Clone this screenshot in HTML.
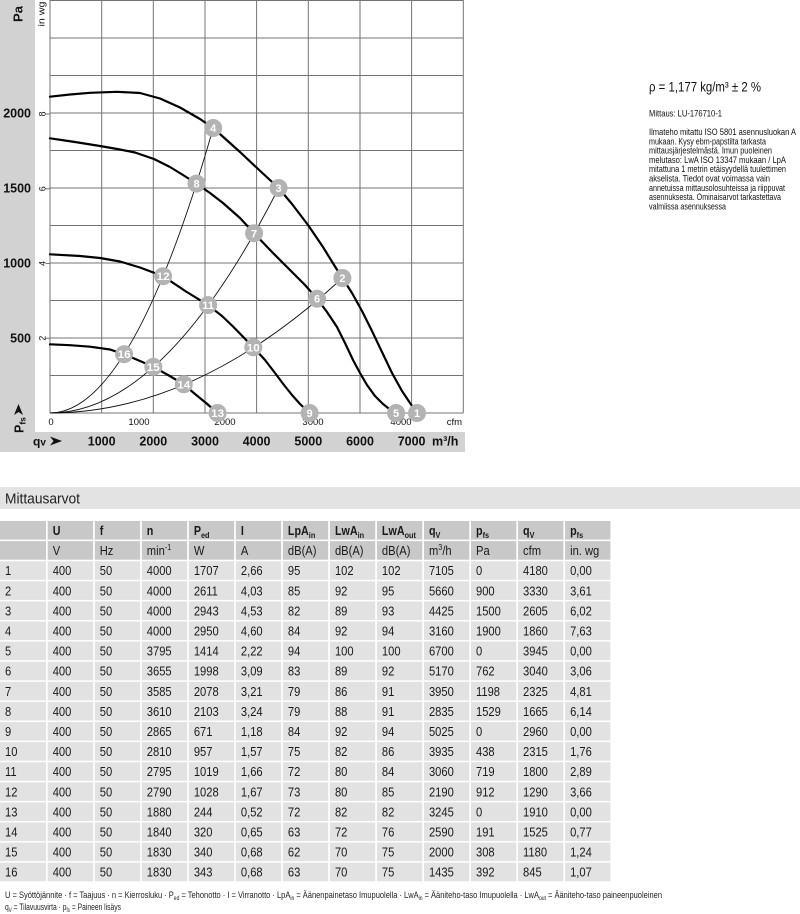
<!DOCTYPE html>
<html><head><meta charset="utf-8">
<style>html,body{margin:0;padding:0;background:#fff;}svg{display:block}</style>
</head><body>
<svg width="800" height="914" viewBox="0 0 800 914" xmlns="http://www.w3.org/2000/svg" font-family="'Liberation Sans', Arial, sans-serif">
<rect x="0" y="0" width="800" height="914" fill="#fff"/>
<!-- chart gray bands -->
<rect x="0" y="0" width="35" height="452" fill="#d2d2d2"/>
<rect x="0" y="432" width="465" height="20" fill="#d2d2d2"/>
<!-- grid -->
<path d="M50 0.5H463.3M50 38H463.3M50 75.5H463.3M50 113H463.3M50 150.5H463.3M50 188H463.3M50 225.5H463.3M50 263H463.3M50 300.5H463.3M50 338H463.3M50 375.5H463.3M50 413H463.3M50 0V413M101.7 0V413M153.3 0V413M205 0V413M256.6 0V413M308.3 0V413M360 0V413M411.6 0V413M463.3 0V413" stroke="#747474" stroke-width="1" fill="none"/>
<!-- in wg ticks -->
<path d="M45.5 114H50M45.5 188.8H50M45.5 263.5H50M45.5 338.2H50" stroke="#747474" stroke-width="1"/>
<!-- system curves -->
<g fill="none" stroke="#111" stroke-width="0.9">
<path d="M50 413Q131.6 413 213.2 128"/>
<path d="M50 413Q164.3 413 278.6 188"/>
<path d="M50 413Q196.2 413 342.4 278"/>
</g>
<!-- fan curves -->
<g fill="none" stroke="#000" stroke-width="2.2" stroke-linejoin="round" stroke-linecap="round">
<polyline points="50,96.7 70,94.5 90,92.8 117,91.8 140,93 160,98.5 180,107.5 200,119 213.2,128 240,152 257,168 278.6,188 292,204 308,225 323,247 335,266.5 342.4,278 352,293 362,311 372,331 382,352 392,373 402,391 410,403 417,413"/>
<polyline points="50,138.3 75,142 100,146 120,149.5 135,152.5 154,159 170,167 183,175 196.5,183.6 210,193 223,203 240,218 254.1,233.3 272,252 290,270 305,285 317.1,298.7 327,312 337,327 345,343 353,360 360,373 367,385 375,396 383,404 390,409.5 396.1,413"/>
<polyline points="50,254.3 80,256 100,258 120,261.5 140,267.5 163.1,276.2 186,291.5 208.1,305.1 222,316 233,326.5 253.3,347.3 265,360 275,373 284,385 292,395 300,404 309.6,413"/>
<polyline points="50,344.3 70,345.2 90,346.7 110,349.5 124.1,354.2 140,361 153.3,366.8 168,375 183.8,384.3 195,394 206,403 217.6,413"/>
</g>
<!-- axis labels -->
<g fill="#111">
<text transform="translate(22.7,14) rotate(-90)" text-anchor="middle" font-size="13" font-weight="bold">Pa</text>
<text transform="translate(44.5,14) rotate(-90)" text-anchor="middle" font-size="9" textLength="25" lengthAdjust="spacingAndGlyphs">in wg</text>
<g font-size="12.5" font-weight="bold" text-anchor="end">
<text x="31" y="117.5">2000</text>
<text x="31" y="192.5">1500</text>
<text x="31" y="267.5">1000</text>
<text x="31" y="342.5">500</text>
</g>
<g font-size="9" text-anchor="middle">
<text transform="translate(45.3,114) rotate(-90)">8</text>
<text transform="translate(45.3,188.8) rotate(-90)">6</text>
<text transform="translate(45.3,263.5) rotate(-90)">4</text>
<text transform="translate(45.3,338.2) rotate(-90)">2</text>
</g>
<polygon points="18.5,404 23,415 18.5,412 14,415"/>
<text transform="translate(23.5,433) rotate(-90)" font-size="12.5" font-weight="bold">P<tspan font-size="8.5" dy="2">fs</tspan></text>
<g font-size="9.5" text-anchor="middle">
<text x="51" y="425">0</text>
<text x="139" y="425">1000</text>
<text x="225" y="425">2000</text>
<text x="313" y="425">3000</text>
<text x="401" y="425">4000</text>
</g>
<text x="462" y="425" font-size="9.5" text-anchor="end">cfm</text>
<text x="33" y="445.5" font-size="12" font-weight="bold">q<tspan font-size="10">v</tspan></text>
<polygon points="50,436.5 62,441 50,445.5 53.5,441"/>
<g font-size="12.5" font-weight="bold" text-anchor="middle">
<text x="101.7" y="445.5">1000</text>
<text x="153.3" y="445.5">2000</text>
<text x="205" y="445.5">3000</text>
<text x="256.6" y="445.5">4000</text>
<text x="308.3" y="445.5">5000</text>
<text x="360" y="445.5">6000</text>
<text x="411.6" y="445.5">7000</text>
</g>
<text x="432" y="445.5" font-size="12.5" font-weight="bold">m³/h</text>
</g>
<!-- operating point circles -->
<g fill="#b3b3b3">
<circle cx="417" cy="413" r="9"/><circle cx="342.4" cy="278" r="9"/><circle cx="278.6" cy="188" r="9"/><circle cx="213.2" cy="128" r="9"/>
<circle cx="396.1" cy="413" r="9"/><circle cx="317.1" cy="298.7" r="9"/><circle cx="254.1" cy="233.3" r="9"/><circle cx="196.5" cy="183.6" r="9"/>
<circle cx="309.6" cy="413" r="9"/><circle cx="253.3" cy="347.3" r="9"/><circle cx="208.1" cy="305.1" r="9"/><circle cx="163.1" cy="276.2" r="9"/>
<circle cx="217.6" cy="413" r="9"/><circle cx="183.8" cy="384.3" r="9"/><circle cx="153.3" cy="366.8" r="9"/><circle cx="124.1" cy="354.2" r="9"/>
</g>
<g fill="#fff" font-size="11" font-weight="bold" text-anchor="middle">
<text x="417" y="417">1</text><text x="342.4" y="282">2</text><text x="278.6" y="192">3</text><text x="213.2" y="132">4</text>
<text x="396.1" y="417">5</text><text x="317.1" y="302.7">6</text><text x="254.1" y="237.3">7</text><text x="196.5" y="187.6">8</text>
<text x="309.6" y="417">9</text><text x="253.3" y="351.3" textLength="13" lengthAdjust="spacingAndGlyphs">10</text><text x="208.1" y="309.1" textLength="12" lengthAdjust="spacingAndGlyphs">11</text><text x="163.1" y="280.2" textLength="13" lengthAdjust="spacingAndGlyphs">12</text>
<text x="217.6" y="417" textLength="13" lengthAdjust="spacingAndGlyphs">13</text><text x="183.8" y="388.3" textLength="13" lengthAdjust="spacingAndGlyphs">14</text><text x="153.3" y="370.8" textLength="13" lengthAdjust="spacingAndGlyphs">15</text><text x="124.1" y="358.2" textLength="13" lengthAdjust="spacingAndGlyphs">16</text>
</g>
<!-- right info text -->
<g fill="#111">
<text x="649" y="91.5" font-size="13.5" textLength="112" lengthAdjust="spacingAndGlyphs">ρ = 1,177 kg/m³ ± 2 %</text>
<text x="649" y="116.5" font-size="9" textLength="73" lengthAdjust="spacingAndGlyphs">Mittaus: LU-176710-1</text>
<g font-size="9" lengthAdjust="spacingAndGlyphs">
<text x="649" y="135" textLength="147" lengthAdjust="spacingAndGlyphs">Ilmateho mitattu ISO 5801 asennusluokan A</text>
<text x="649" y="144.3" textLength="117" lengthAdjust="spacingAndGlyphs">mukaan. Kysy ebm-papstilta tarkasta</text>
<text x="649" y="153.6" textLength="123" lengthAdjust="spacingAndGlyphs">mittausjärjestelmästä. Imun puoleinen</text>
<text x="649" y="162.9" textLength="137" lengthAdjust="spacingAndGlyphs">melutaso: LwA  ISO 13347 mukaan / LpA</text>
<text x="649" y="172.2" textLength="137" lengthAdjust="spacingAndGlyphs">mitattuna 1 metrin etäisyydellä tuulettimen</text>
<text x="649" y="181.5" textLength="121" lengthAdjust="spacingAndGlyphs">akselista. Tiedot ovat voimassa vain</text>
<text x="649" y="190.8" textLength="136" lengthAdjust="spacingAndGlyphs">annetuissa mittausolosuhteissa ja riippuvat</text>
<text x="649" y="200.1" textLength="132" lengthAdjust="spacingAndGlyphs">asennuksesta. Ominaisarvot tarkastettava</text>
<text x="649" y="209.4" textLength="77" lengthAdjust="spacingAndGlyphs">valmiissa asennuksessa</text>
</g>
</g>
<!-- title bar -->
<rect x="0" y="487" width="800" height="22" fill="#e3e3e3"/>
<text x="5" y="503.5" font-size="15" fill="#222" textLength="75" lengthAdjust="spacingAndGlyphs">Mittausarvot</text>
<!-- table backgrounds -->
<rect x="0" y="521" width="610.4" height="39.7" fill="#c8c8c8"/>
<rect x="0" y="561.2" width="610.4" height="320.1" fill="#e2e2e2"/>
<g fill="#fff">
<rect x="46" y="521" width="1.7" height="361"/><rect x="93.06" y="521" width="1.7" height="361"/><rect x="140.09" y="521" width="1.7" height="361"/><rect x="187.12" y="521" width="1.7" height="361"/><rect x="234.15" y="521" width="1.7" height="361"/><rect x="281.18" y="521" width="1.7" height="361"/><rect x="328.21" y="521" width="1.7" height="361"/><rect x="375.24" y="521" width="1.7" height="361"/><rect x="422.27" y="521" width="1.7" height="361"/><rect x="469.3" y="521" width="1.7" height="361"/><rect x="516.33" y="521" width="1.7" height="361"/><rect x="563.36" y="521" width="1.7" height="361"/>
<rect x="0" y="539.6" width="611" height="1.5"/><rect x="0" y="559.7" width="611" height="1.5"/><rect x="0" y="579.8" width="611" height="1.5"/><rect x="0" y="599.9" width="611" height="1.5"/><rect x="0" y="620" width="611" height="1.5"/><rect x="0" y="640.1" width="611" height="1.5"/><rect x="0" y="660.2" width="611" height="1.5"/><rect x="0" y="680.3" width="611" height="1.5"/><rect x="0" y="700.4" width="611" height="1.5"/><rect x="0" y="720.5" width="611" height="1.5"/><rect x="0" y="740.6" width="611" height="1.5"/><rect x="0" y="760.7" width="611" height="1.5"/><rect x="0" y="780.8" width="611" height="1.5"/><rect x="0" y="800.9" width="611" height="1.5"/><rect x="0" y="821" width="611" height="1.5"/><rect x="0" y="841.1" width="611" height="1.5"/><rect x="0" y="861.2" width="611" height="1.5"/>
</g>
<!-- table text -->
<g transform="scale(0.86 1)" fill="#1a1a1a" font-size="13">
<g font-weight="bold" font-size="12.5">
<text x="61.28" y="535">U</text>
<text x="116" y="535">f</text>
<text x="170.7" y="535">n</text>
<text x="225.4" y="535">P<tspan font-size="8.5" dy="3">ed</tspan></text>
<text x="280.1" y="535">I</text>
<text x="334.8" y="535">LpA<tspan font-size="8.5" dy="3">in</tspan></text>
<text x="389.5" y="535">LwA<tspan font-size="8.5" dy="3">in</tspan></text>
<text x="444.1" y="535">LwA<tspan font-size="8.5" dy="3">out</tspan></text>
<text x="498.8" y="535">q<tspan font-size="8.5" dy="3">V</tspan></text>
<text x="553.5" y="535">p<tspan font-size="8.5" dy="3">fs</tspan></text>
<text x="608.2" y="535">q<tspan font-size="8.5" dy="3">V</tspan></text>
<text x="662.9" y="535">p<tspan font-size="8.5" dy="3">fs</tspan></text>
</g>
<text x="61.28" y="555.1">V</text>
<text x="116" y="555.1">Hz</text>
<text x="170.7" y="555.1">min<tspan font-size="8.5" dy="-5">-1</tspan></text>
<text x="225.4" y="555.1">W</text>
<text x="280.1" y="555.1">A</text>
<text x="334.8" y="555.1">dB(A)</text>
<text x="389.5" y="555.1">dB(A)</text>
<text x="444.1" y="555.1">dB(A)</text>
<text x="498.8" y="555.1">m<tspan font-size="8.5" dy="-5">3</tspan><tspan dy="5">/h</tspan></text>
<text x="553.5" y="555.1">Pa</text>
<text x="608.2" y="555.1">cfm</text>
<text x="662.9" y="555.1">in. wg</text>
<text y="575.2"><tspan x="5.81">1</tspan><tspan x="61.28">400</tspan><tspan x="116">50</tspan><tspan x="170.7">4000</tspan><tspan x="225.4">1707</tspan><tspan x="280.1">2,66</tspan><tspan x="334.8">95</tspan><tspan x="389.5">102</tspan><tspan x="444.1">102</tspan><tspan x="498.8">7105</tspan><tspan x="553.5">0</tspan><tspan x="608.2">4180</tspan><tspan x="662.9">0,00</tspan></text>
<text y="595.3"><tspan x="5.81">2</tspan><tspan x="61.28">400</tspan><tspan x="116">50</tspan><tspan x="170.7">4000</tspan><tspan x="225.4">2611</tspan><tspan x="280.1">4,03</tspan><tspan x="334.8">85</tspan><tspan x="389.5">92</tspan><tspan x="444.1">95</tspan><tspan x="498.8">5660</tspan><tspan x="553.5">900</tspan><tspan x="608.2">3330</tspan><tspan x="662.9">3,61</tspan></text>
<text y="615.4"><tspan x="5.81">3</tspan><tspan x="61.28">400</tspan><tspan x="116">50</tspan><tspan x="170.7">4000</tspan><tspan x="225.4">2943</tspan><tspan x="280.1">4,53</tspan><tspan x="334.8">82</tspan><tspan x="389.5">89</tspan><tspan x="444.1">93</tspan><tspan x="498.8">4425</tspan><tspan x="553.5">1500</tspan><tspan x="608.2">2605</tspan><tspan x="662.9">6,02</tspan></text>
<text y="635.5"><tspan x="5.81">4</tspan><tspan x="61.28">400</tspan><tspan x="116">50</tspan><tspan x="170.7">4000</tspan><tspan x="225.4">2950</tspan><tspan x="280.1">4,60</tspan><tspan x="334.8">84</tspan><tspan x="389.5">92</tspan><tspan x="444.1">94</tspan><tspan x="498.8">3160</tspan><tspan x="553.5">1900</tspan><tspan x="608.2">1860</tspan><tspan x="662.9">7,63</tspan></text>
<text y="655.6"><tspan x="5.81">5</tspan><tspan x="61.28">400</tspan><tspan x="116">50</tspan><tspan x="170.7">3795</tspan><tspan x="225.4">1414</tspan><tspan x="280.1">2,22</tspan><tspan x="334.8">94</tspan><tspan x="389.5">100</tspan><tspan x="444.1">100</tspan><tspan x="498.8">6700</tspan><tspan x="553.5">0</tspan><tspan x="608.2">3945</tspan><tspan x="662.9">0,00</tspan></text>
<text y="675.7"><tspan x="5.81">6</tspan><tspan x="61.28">400</tspan><tspan x="116">50</tspan><tspan x="170.7">3655</tspan><tspan x="225.4">1998</tspan><tspan x="280.1">3,09</tspan><tspan x="334.8">83</tspan><tspan x="389.5">89</tspan><tspan x="444.1">92</tspan><tspan x="498.8">5170</tspan><tspan x="553.5">762</tspan><tspan x="608.2">3040</tspan><tspan x="662.9">3,06</tspan></text>
<text y="695.8"><tspan x="5.81">7</tspan><tspan x="61.28">400</tspan><tspan x="116">50</tspan><tspan x="170.7">3585</tspan><tspan x="225.4">2078</tspan><tspan x="280.1">3,21</tspan><tspan x="334.8">79</tspan><tspan x="389.5">86</tspan><tspan x="444.1">91</tspan><tspan x="498.8">3950</tspan><tspan x="553.5">1198</tspan><tspan x="608.2">2325</tspan><tspan x="662.9">4,81</tspan></text>
<text y="715.9"><tspan x="5.81">8</tspan><tspan x="61.28">400</tspan><tspan x="116">50</tspan><tspan x="170.7">3610</tspan><tspan x="225.4">2103</tspan><tspan x="280.1">3,24</tspan><tspan x="334.8">79</tspan><tspan x="389.5">88</tspan><tspan x="444.1">91</tspan><tspan x="498.8">2835</tspan><tspan x="553.5">1529</tspan><tspan x="608.2">1665</tspan><tspan x="662.9">6,14</tspan></text>
<text y="736"><tspan x="5.81">9</tspan><tspan x="61.28">400</tspan><tspan x="116">50</tspan><tspan x="170.7">2865</tspan><tspan x="225.4">671</tspan><tspan x="280.1">1,18</tspan><tspan x="334.8">84</tspan><tspan x="389.5">92</tspan><tspan x="444.1">94</tspan><tspan x="498.8">5025</tspan><tspan x="553.5">0</tspan><tspan x="608.2">2960</tspan><tspan x="662.9">0,00</tspan></text>
<text y="756.1"><tspan x="5.81">10</tspan><tspan x="61.28">400</tspan><tspan x="116">50</tspan><tspan x="170.7">2810</tspan><tspan x="225.4">957</tspan><tspan x="280.1">1,57</tspan><tspan x="334.8">75</tspan><tspan x="389.5">82</tspan><tspan x="444.1">86</tspan><tspan x="498.8">3935</tspan><tspan x="553.5">438</tspan><tspan x="608.2">2315</tspan><tspan x="662.9">1,76</tspan></text>
<text y="776.2"><tspan x="5.81">11</tspan><tspan x="61.28">400</tspan><tspan x="116">50</tspan><tspan x="170.7">2795</tspan><tspan x="225.4">1019</tspan><tspan x="280.1">1,66</tspan><tspan x="334.8">72</tspan><tspan x="389.5">80</tspan><tspan x="444.1">84</tspan><tspan x="498.8">3060</tspan><tspan x="553.5">719</tspan><tspan x="608.2">1800</tspan><tspan x="662.9">2,89</tspan></text>
<text y="796.3"><tspan x="5.81">12</tspan><tspan x="61.28">400</tspan><tspan x="116">50</tspan><tspan x="170.7">2790</tspan><tspan x="225.4">1028</tspan><tspan x="280.1">1,67</tspan><tspan x="334.8">73</tspan><tspan x="389.5">80</tspan><tspan x="444.1">85</tspan><tspan x="498.8">2190</tspan><tspan x="553.5">912</tspan><tspan x="608.2">1290</tspan><tspan x="662.9">3,66</tspan></text>
<text y="816.4"><tspan x="5.81">13</tspan><tspan x="61.28">400</tspan><tspan x="116">50</tspan><tspan x="170.7">1880</tspan><tspan x="225.4">244</tspan><tspan x="280.1">0,52</tspan><tspan x="334.8">72</tspan><tspan x="389.5">82</tspan><tspan x="444.1">82</tspan><tspan x="498.8">3245</tspan><tspan x="553.5">0</tspan><tspan x="608.2">1910</tspan><tspan x="662.9">0,00</tspan></text>
<text y="836.5"><tspan x="5.81">14</tspan><tspan x="61.28">400</tspan><tspan x="116">50</tspan><tspan x="170.7">1840</tspan><tspan x="225.4">320</tspan><tspan x="280.1">0,65</tspan><tspan x="334.8">63</tspan><tspan x="389.5">72</tspan><tspan x="444.1">76</tspan><tspan x="498.8">2590</tspan><tspan x="553.5">191</tspan><tspan x="608.2">1525</tspan><tspan x="662.9">0,77</tspan></text>
<text y="856.6"><tspan x="5.81">15</tspan><tspan x="61.28">400</tspan><tspan x="116">50</tspan><tspan x="170.7">1830</tspan><tspan x="225.4">340</tspan><tspan x="280.1">0,68</tspan><tspan x="334.8">62</tspan><tspan x="389.5">70</tspan><tspan x="444.1">75</tspan><tspan x="498.8">2000</tspan><tspan x="553.5">308</tspan><tspan x="608.2">1180</tspan><tspan x="662.9">1,24</tspan></text>
<text y="876.7"><tspan x="5.81">16</tspan><tspan x="61.28">400</tspan><tspan x="116">50</tspan><tspan x="170.7">1830</tspan><tspan x="225.4">343</tspan><tspan x="280.1">0,68</tspan><tspan x="334.8">63</tspan><tspan x="389.5">70</tspan><tspan x="444.1">75</tspan><tspan x="498.8">1435</tspan><tspan x="553.5">392</tspan><tspan x="608.2">845</tspan><tspan x="662.9">1,07</tspan></text>
</g>
<!-- footer -->
<g fill="#222" font-size="9">
<text x="5" y="898" textLength="657" lengthAdjust="spacingAndGlyphs">U = Syöttöjännite · f = Taajuus · n = Kierrosluku · P<tspan font-size="6" dy="2">ed</tspan><tspan dy="-2"> = Tehonotto · I = Virranotto · LpA</tspan><tspan font-size="6" dy="2">in</tspan><tspan dy="-2"> = Äänenpainetaso Imupuolella · LwA</tspan><tspan font-size="6" dy="2">in</tspan><tspan dy="-2"> = Ääniteho-taso Imupuolella · LwA</tspan><tspan font-size="6" dy="2">out</tspan><tspan dy="-2"> = Ääniteho-taso paineenpuoleinen</tspan></text>
<text x="5" y="910" textLength="116" lengthAdjust="spacingAndGlyphs">q<tspan font-size="6" dy="2">V</tspan><tspan dy="-2"> = Tilavuusvirta · p</tspan><tspan font-size="6" dy="2">fs</tspan><tspan dy="-2"> = Paineen lisäys</tspan></text>
</g>
</svg>
</body></html>
